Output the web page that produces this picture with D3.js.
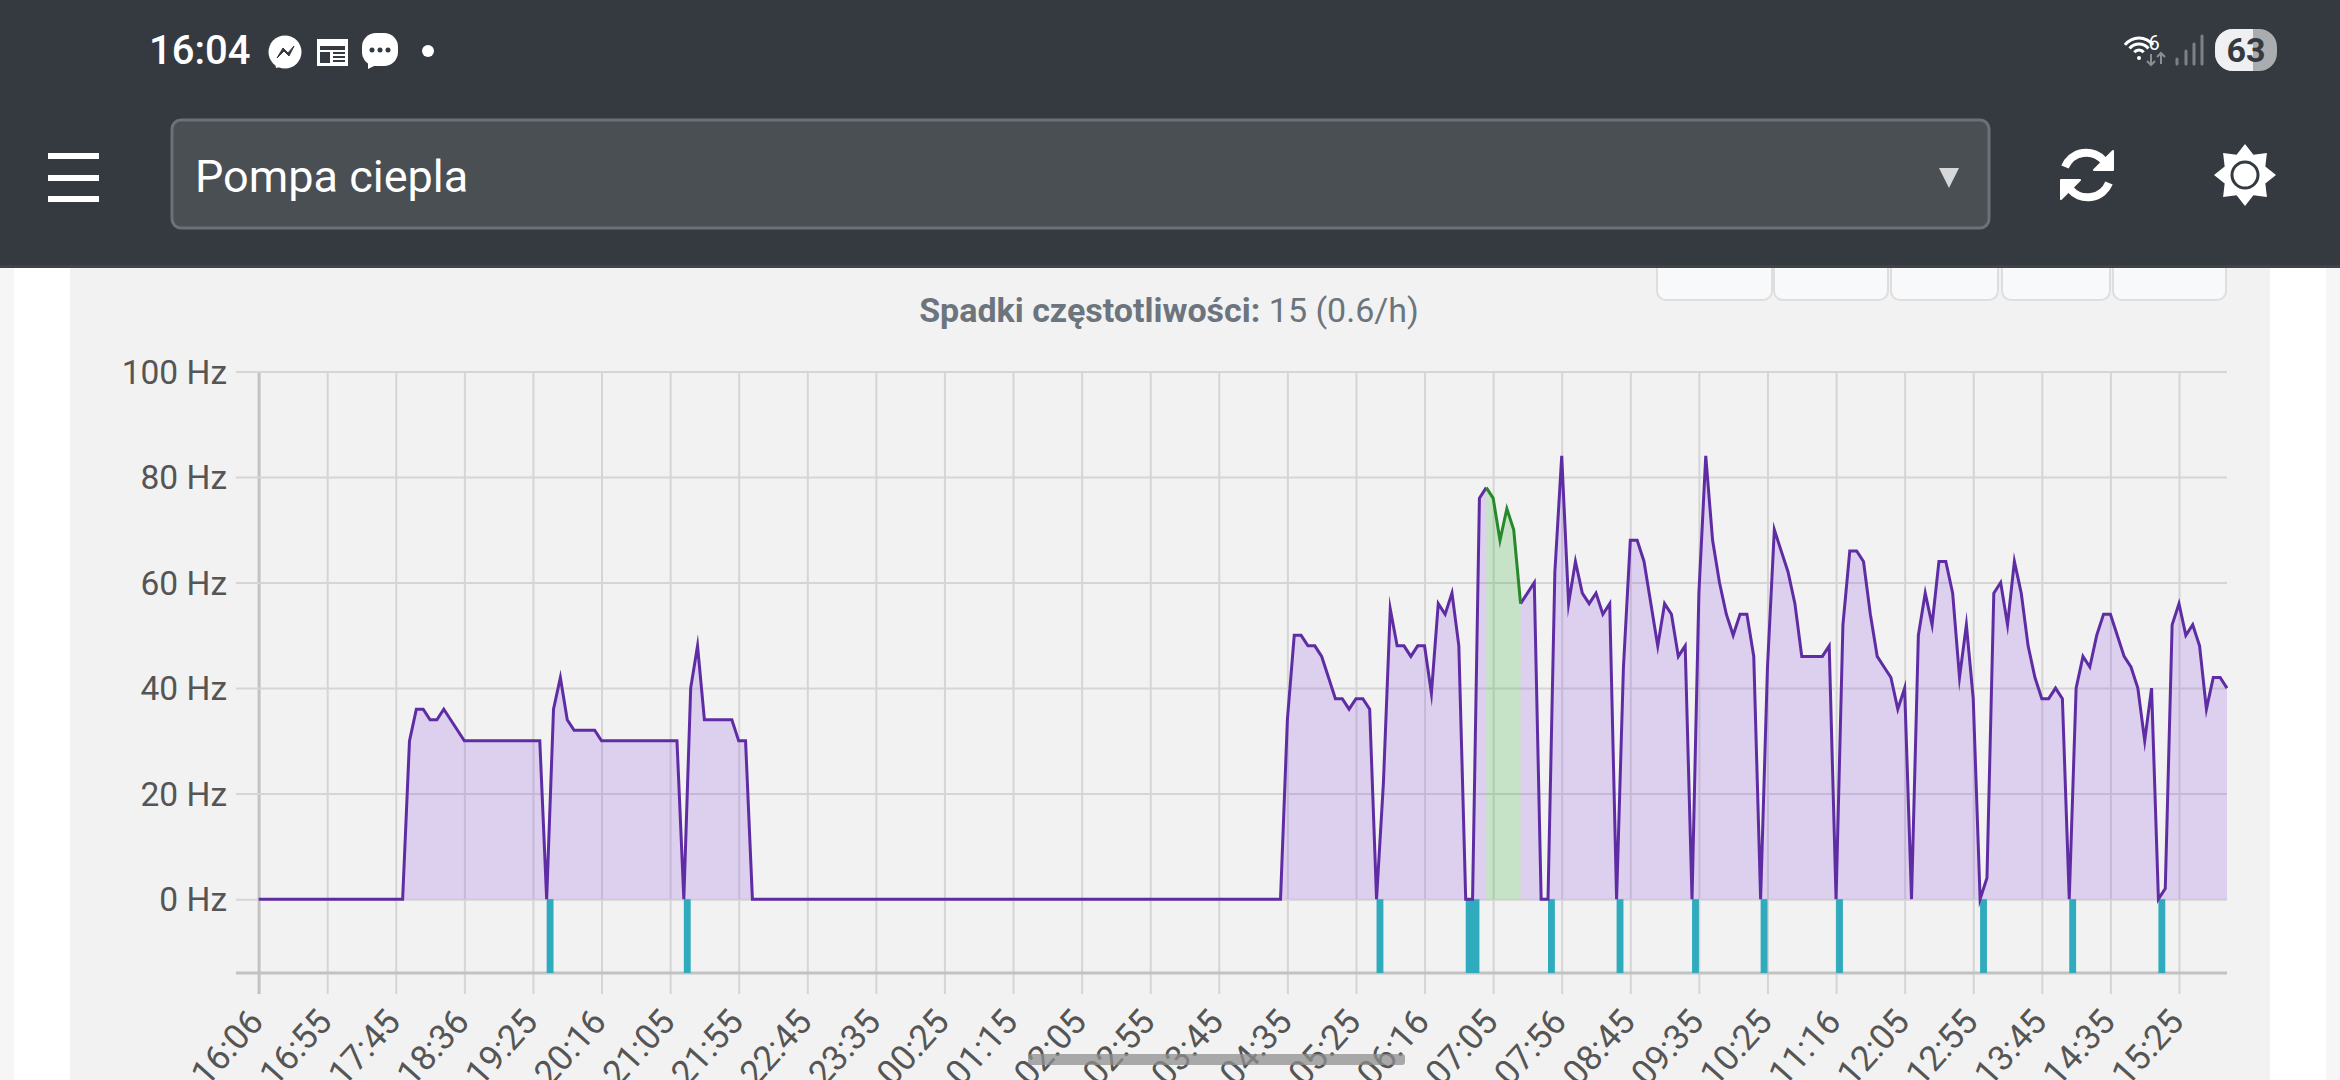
<!DOCTYPE html>
<html>
<head>
<meta charset="utf-8">
<script src="https://cdn.jsdelivr.net/npm/d3@7"></script>
<style>
html, body { margin: 0; padding: 0; background: #fff; overflow: hidden; }
svg { display: block; font-family: Roboto, sans-serif; }
</style>
</head>
<body>
<div id="chart"></div>
<script>
// one sample every 5 minutes, tick labels every 10 samples
var tickLabels = ["16:06", "16:55", "17:45", "18:36", "19:25", "20:16", "21:05", "21:55", "22:45", "23:35",
    "00:25", "01:15", "02:05", "02:55", "03:45", "04:35", "05:25", "06:16", "07:05", "07:56",
    "08:45", "09:35", "10:25", "11:16", "12:05", "12:55", "13:45", "14:35", "15:25"];
var yTicks = [0, 20, 40, 60, 80, 100];

var freq = [
    0, 0, 0, 0, 0, 0, 0, 0, 0, 0,
    0, 0, 0, 0, 0, 0, 0, 0, 0, 0,
    0, 0, 30, 36, 36, 34, 34, 36, 34, 32,
    30, 30, 30, 30, 30, 30, 30, 30, 30, 30,
    30, 30, 0, 36, 42, 34, 32, 32, 32, 32,
    30, 30, 30, 30, 30, 30, 30, 30, 30, 30,
    30, 30, 0, 40, 48, 34, 34, 34, 34, 34,
    30, 30, 0, 0, 0, 0, 0, 0, 0, 0,
    0, 0, 0, 0, 0, 0, 0, 0, 0, 0,
    0, 0, 0, 0, 0, 0, 0, 0, 0, 0,
    0, 0, 0, 0, 0, 0, 0, 0, 0, 0,
    0, 0, 0, 0, 0, 0, 0, 0, 0, 0,
    0, 0, 0, 0, 0, 0, 0, 0, 0, 0,
    0, 0, 0, 0, 0, 0, 0, 0, 0, 0,
    0, 0, 0, 0, 0, 0, 0, 0, 0, 0,
    34, 50, 50, 48, 48, 46, 42, 38, 38, 36,
    38, 38, 36, 0, 22, 55, 48, 48, 46, 48,
    48, 39, 56, 54, 58, 48, 0, 0, 76, 78,
    76, 68, 74, 70, 56, 58, 60, 0, 0, 62,
    84, 56, 64, 58, 56, 58, 54, 56, 0, 44,
    68, 68, 64, 56, 48, 56, 54, 46, 48, 0,
    58, 84, 68, 60, 54, 50, 54, 54, 46, 0,
    44, 70, 66, 62, 56, 46, 46, 46, 46, 48,
    0, 52, 66, 66, 64, 54, 46, 44, 42, 36,
    40, 0, 50, 58, 52, 64, 64, 58, 42, 52,
    38, 0, 4, 58, 60, 52, 64, 58, 48, 42,
    38, 38, 40, 38, 0, 40, 46, 44, 50, 54,
    54, 50, 46, 44, 40, 30, 40, 0, 2, 52,
    56, 50, 52, 48, 36, 42, 42, 40
];

// sample ranges: the green stretch and the teal frequency drop markers
var greenRange = [179, 184];
var dropRanges = [[42, 43], [62, 63], [163, 164], [176, 178], [188, 189], [198, 199],
    [209, 210], [219, 220], [230, 231], [251, 252], [264, 265], [277, 278]];

var samples = d3.range(freq.length);
var width = 2340, height = 1080;

var svg = d3.select("#chart").append("svg")
    .attr("width", width)
    .attr("height", height);

// page background
svg.append("rect").attr("width", width).attr("height", height).attr("fill", "#fff");
svg.append("rect").attr("width", 14).attr("height", height).attr("fill", "#f6f6f6");
svg.append("rect").attr("x", 2326).attr("width", 14).attr("height", height).attr("fill", "#f6f6f6");
svg.append("rect").attr("x", 70).attr("width", 2200).attr("height", height).attr("fill", "#f2f2f2");

// buttons hidden under the header
var buttons = [[1657, 1772], [1774, 1888], [1891, 1998], [2002, 2110], [2113, 2226]];
svg.append("g").selectAll("rect").data(buttons).enter().append("rect")
    .attr("x", function (d) { return d[0]; })
    .attr("y", 240)
    .attr("width", function (d) { return d[1] - d[0]; })
    .attr("height", 60)
    .attr("rx", 9)
    .attr("fill", "#f8f9fa")
    .attr("stroke", "#dedede")
    .attr("stroke-width", 2);

// title
var title = svg.append("text")
    .attr("x", 1169)
    .attr("y", 322)
    .attr("text-anchor", "middle")
    .style("font-size", "34px")
    .attr("fill", "#6c757d");
title.append("tspan").style("font-weight", 700).text("Spadki częstotliwości:");
title.append("tspan").text(" 15 (0.6/h)");

// scales
var x = d3.scaleLinear().domain([0, freq.length - 1]).range([258.6, 2227]);
var y = d3.scaleLinear().domain([-14, 100]).range([973, 371.5]);

// grid and axes
var gridColor = "#d5d5d5", axisColor = "#c2c2c2";

var xAxis = svg.append("g")
    .attr("transform", "translate(0,973)")
    .call(d3.axisBottom(x)
        .tickValues(tickLabels.map(function (d, i) { return i * 10; }))
        .tickFormat(function (d) { return tickLabels[d / 10]; })
        .tickSize(21));
xAxis.select(".domain").remove();
xAxis.selectAll(".tick line")
    .attr("y1", y(100) - 973)
    .attr("stroke", gridColor)
    .attr("stroke-width", 2);
xAxis.selectAll(".tick").filter(function (d) { return d === 0; }).select("line")
    .attr("stroke", axisColor)
    .attr("stroke-width", 3);
xAxis.selectAll(".tick text")
    .attr("x", 0)
    .attr("y", 0)
    .attr("dy", 0)
    .attr("text-anchor", "end")
    .attr("transform", "translate(6,50) rotate(-48)")
    .attr("fill", "#555")
    .style("font-family", "Roboto, sans-serif")
    .style("font-size", "35px");

var yAxis = svg.append("g")
    .attr("transform", "translate(2227,0)")
    .call(d3.axisLeft(y).tickValues(yTicks).tickFormat(function (d) { return d + " Hz"; }).tickSize(1991));
yAxis.select(".domain").remove();
yAxis.selectAll(".tick line").attr("stroke", gridColor).attr("stroke-width", 2);
yAxis.selectAll(".tick text")
    .attr("x", -2000)
    .attr("dy", "0.35em")
    .attr("fill", "#555")
    .style("font-family", "Roboto, sans-serif")
    .style("font-size", "33.5px");

svg.append("line")
    .attr("x1", 236).attr("x2", 2227)
    .attr("y1", 973).attr("y2", 973)
    .attr("stroke", axisColor)
    .attr("stroke-width", 3);

// series
var area = d3.area()
    .x(function (d) { return x(d); })
    .y0(y(0))
    .y1(function (d) { return y(freq[d]); });
var line = d3.line()
    .x(function (d) { return x(d); })
    .y(function (d) { return y(freq[d]); });

var greenSamples = samples.filter(function (d) { return d >= greenRange[0] && d <= greenRange[1]; });
var purpleBefore = samples.filter(function (d) { return d <= greenRange[0]; });
var purpleAfter = samples.filter(function (d) { return d >= greenRange[1]; });

[purpleBefore, purpleAfter].forEach(function (part) {
    svg.append("path").attr("d", area(part)).attr("fill", "rgb(140,70,225)").attr("fill-opacity", 0.2);
});
svg.append("path").attr("d", area(greenSamples)).attr("fill", "rgb(30,170,30)").attr("fill-opacity", 0.2);

// drop markers under the zero line
svg.append("g").selectAll("rect").data(dropRanges).enter().append("rect")
    .attr("x", function (d) { return x(d[0]); })
    .attr("y", y(0))
    .attr("width", function (d) { return x(d[1]) - x(d[0]); })
    .attr("height", 973 - y(0))
    .attr("fill", "#30abbe");

[purpleBefore, purpleAfter].forEach(function (part) {
    svg.append("path").attr("d", line(part))
        .attr("fill", "none")
        .attr("stroke", "#5f2da3")
        .attr("stroke-width", 3)
        .attr("stroke-miterlimit", 10);
});
svg.append("path").attr("d", line(greenSamples))
    .attr("fill", "none")
    .attr("stroke", "#268a2c")
    .attr("stroke-width", 3)
    .attr("stroke-miterlimit", 10);

// scrollbar of the phone browser
svg.append("rect")
    .attr("x", 1028).attr("y", 1054)
    .attr("width", 377).attr("height", 11)
    .attr("rx", 3)
    .attr("fill", "#8f8f8f")
    .attr("fill-opacity", 0.75);

// header
var head = svg.append("g");
head.append("rect").attr("width", width).attr("height", 268).attr("fill", "#343a40");
head.append("rect").attr("y", 265).attr("width", width).attr("height", 3).attr("fill", "#3d4349");

// status bar
head.append("text").attr("x", 149).attr("y", 64)
    .style("font-size", "40px").style("font-weight", 500).attr("fill", "#fff").text("16:04");

// messenger bubble
head.append("circle").attr("cx", 285).attr("cy", 52).attr("r", 16.5).attr("fill", "#fff");
head.append("path").attr("d", "M276,68 L275,62 L284,66 Z").attr("fill", "#fff");
head.append("path").attr("d", "M277,58 L283,48 L288,53 L294,46 L289,56 L284,51 Z")
    .attr("fill", "#343a40").attr("stroke", "#343a40").attr("stroke-width", 1);

// news icon
head.append("rect").attr("x", 317).attr("y", 39).attr("width", 31).attr("height", 27).attr("fill", "#fff");
head.append("rect").attr("x", 320).attr("y", 46).attr("width", 25).attr("height", 4).attr("fill", "#343a40");
head.append("rect").attr("x", 320).attr("y", 52).attr("width", 10).attr("height", 11).attr("fill", "#343a40");
head.append("g").selectAll("rect").data([52, 56, 60]).enter().append("rect")
    .attr("x", 333).attr("y", function (d) { return d; })
    .attr("width", 12).attr("height", 2).attr("fill", "#343a40");

// chat bubble
head.append("rect").attr("x", 362).attr("y", 33).attr("width", 36).attr("height", 33).attr("rx", 14).attr("fill", "#fff");
head.append("path").attr("d", "M368,62 L368,69 L378,64 Z").attr("fill", "#fff");
head.append("g").selectAll("circle").data([372, 380, 388]).enter().append("circle")
    .attr("cx", function (d) { return d; }).attr("cy", 50).attr("r", 2.5).attr("fill", "#343a40");

head.append("circle").attr("cx", 428).attr("cy", 51).attr("r", 6).attr("fill", "#fff");

// wifi
[[2139, 56, 18], [2139, 56, 12], [2139, 56, 6]].forEach(function (d) {
    head.append("path")
        .attr("d", d3.arc()({ innerRadius: d[2] - 1.5, outerRadius: d[2] + 1.5, startAngle: -0.9, endAngle: 0.9 }))
        .attr("transform", "translate(" + d[0] + "," + d[1] + ")")
        .attr("fill", "#fff");
});
head.append("circle").attr("cx", 2139).attr("cy", 58).attr("r", 2).attr("fill", "#fff");
head.append("text").attr("x", 2154).attr("y", 50).attr("text-anchor", "middle")
    .style("font-size", "20px").attr("fill", "#fff").text("6");
head.append("path").attr("d", "M2151,54 V65 M2147,61 L2151,65 L2155,61 M2161,64 V53 M2157,57 L2161,53 L2165,57")
    .attr("fill", "none").attr("stroke", "#8b8f93").attr("stroke-width", 2);

// signal bars
[[2177, 59], [2186, 51], [2194, 44], [2202, 36]].forEach(function (d) {
    head.append("line").attr("x1", d[0]).attr("x2", d[0]).attr("y1", d[1]).attr("y2", 64)
        .attr("stroke", "#7d8185").attr("stroke-width", 3).attr("stroke-linecap", "round");
});

// battery
head.append("rect").attr("x", 2215).attr("y", 29).attr("width", 62).attr("height", 42).attr("rx", 18).attr("fill", "#a9adb0");
head.append("path").attr("d", "M2253,29 H2233 A18,18 0 0 0 2215,47 V53 A18,18 0 0 0 2233,71 H2253 Z").attr("fill", "#eef0f1");
head.append("text").attr("x", 2246).attr("y", 62).attr("text-anchor", "middle")
    .style("font-size", "34px").style("font-weight", 700).attr("fill", "#343a40").text("63");

// hamburger
head.append("g").selectAll("rect").data([153, 175, 196]).enter().append("rect")
    .attr("x", 48).attr("y", function (d) { return d; })
    .attr("width", 51).attr("height", 6).attr("fill", "#fff");

// select box
head.append("rect").attr("x", 172).attr("y", 120).attr("width", 1817).attr("height", 108).attr("rx", 9)
    .attr("fill", "#4a4f54").attr("stroke", "#6c7176").attr("stroke-width", 3);
head.append("text").attr("x", 195).attr("y", 192)
    .style("font-size", "45px").attr("fill", "#fff").text("Pompa ciepla");
head.append("path").attr("d", "M1939,168 H1959 L1949,188 Z").attr("fill", "#d5d7d9");

// refresh icon
var refresh = head.append("g").attr("transform", "translate(2087,175)");
refresh.append("path").attr("d", "M-22,-8 A23,23 0 0 1 17,-14 M22,8 A23,23 0 0 1 -17,14")
    .attr("fill", "none").attr("stroke", "#fff").attr("stroke-width", 8);
refresh.append("path").attr("d", "M26,-24 V-5 H7 Z M-26,24 V5 H-7 Z")
    .attr("fill", "#fff").attr("stroke", "#fff").attr("stroke-width", 2).attr("stroke-linejoin", "round");

// brightness icon
var sunPoints = d3.range(16).map(function (i) {
    var a = i * Math.PI / 8, r = i % 2 ? 22 : 31;
    return [Math.sin(a) * r, -Math.cos(a) * r];
});
var sun = head.append("g").attr("transform", "translate(2245,175)");
sun.append("path").attr("d", d3.line()(sunPoints) + "Z").attr("fill", "#fff");
sun.append("circle").attr("r", 13).attr("fill", "#fff").attr("stroke", "#343a40").attr("stroke-width", 3);
</script>
</body>
</html>
